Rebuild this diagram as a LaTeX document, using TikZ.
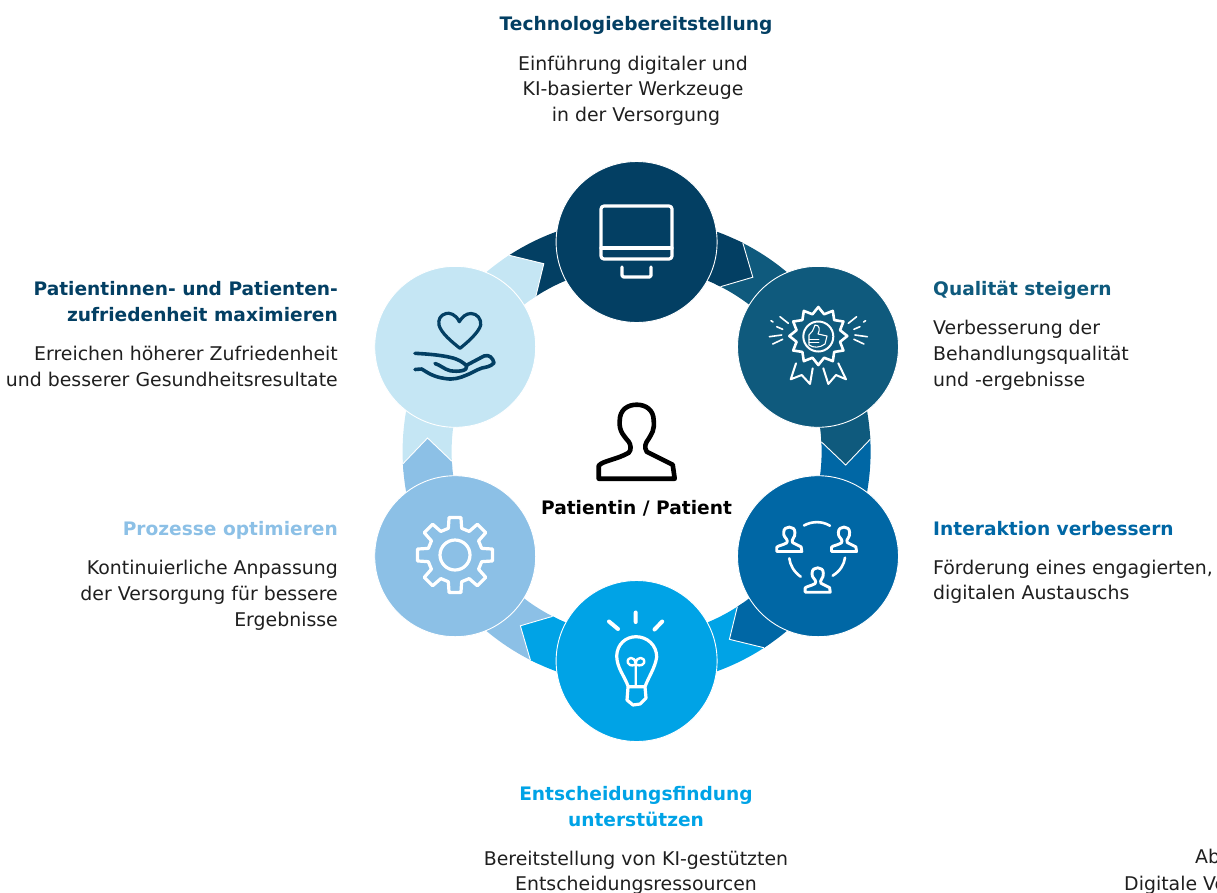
\documentclass[tikz,border=0pt]{standalone}
\usepackage{fontspec}
\setmainfont{DejaVu Sans}
\usetikzlibrary{calc}
\definecolor{cA}{HTML}{033F63}
\definecolor{cB}{HTML}{0F5A7D}
\definecolor{cC}{HTML}{0067A5}
\definecolor{cD}{HTML}{00A3E6}
\definecolor{cE}{HTML}{8CC0E6}
\definecolor{cF}{HTML}{C5E6F4}
\newcommand{\ringseg}[2]{%
  \pgfmathsetmacro{\aS}{123-60*#1}\pgfmathsetmacro{\aE}{63-60*#1}%
  \fill[#2] ($(ring)+(\aS:234pt)$) arc[start angle=\aS,end angle=\aE,radius=234pt]
     -- ($(ring)+(\aE:185pt)$) arc[start angle=\aE,end angle=\aS,radius=185pt] -- cycle;}
\newcommand{\ringtip}[2]{%
  \pgfmathsetmacro{\aE}{63-60*#1}\pgfmathsetmacro{\aT}{56.3-60*#1}\pgfmathsetmacro{\aB}{65-60*#1}%
  \fill[#2] ($(ring)+(\aB:233.8pt)$) -- ($(ring)+(\aE:234pt)$) -- ($(ring)+(\aT:209.5pt)$) -- ($(ring)+(\aE:185pt)$) -- ($(ring)+(\aB:185.2pt)$) -- cycle;
  \draw[white,line width=0.9pt,line join=miter] ($(ring)+(\aE:234pt)$) -- ($(ring)+(\aT:209.5pt)$) -- ($(ring)+(\aE:185pt)$);}
\newcommand{\personshape}{%
  (-17,-21) .. controls (-17,-32) and (-9,-37) .. (0,-37)
  .. controls (9,-37) and (17,-32) .. (17,-21)
  .. controls (18,-12) and (15,-8) .. (12,-3)
  .. controls (9,1) and (7,5) .. (10,10)
  -- (36,23) -- (38,37) -- (-38,37) -- (-38,24)
  .. controls (-34,19) and (-20,18) .. (-8,11)
  .. controls (-5,8) and (-6,3) .. (-8,0)
  .. controls (-12,-5) and (-18,-10) .. (-17,-21) -- cycle}
\tikzset{
  x=1pt,y=-1pt,
  stage/.style={circle,draw=white,line width=0.9pt,minimum size=161pt,inner sep=0pt},
  head/.style={font=\fontsize{18.6}{26}\selectfont\bfseries,inner sep=0pt},
  body/.style={font=\fontsize{18.9}{25.6}\selectfont,text=black!88,inner sep=0pt},
  icon/.style={white,line width=3.2pt,line cap=round,line join=round},
  darkicon/.style={cA,line width=3.2pt,line cap=round,line join=round},
}
\begin{document}
\begin{tikzpicture}
\useasboundingbox (0,0) rectangle (1217,892);
\coordinate (ring) at (636.6,451.5);
% ring
\ringseg{0}{cA}\ringseg{1}{cB}\ringseg{2}{cC}\ringseg{3}{cD}\ringseg{4}{cE}\ringseg{5}{cF}
\ringtip{0}{cA}\ringtip{1}{cB}\ringtip{2}{cC}\ringtip{3}{cD}\ringtip{4}{cE}\ringtip{5}{cF}
% stages
\node[stage,fill=cA] (tech) at (636.6,242) {};
\node[stage,fill=cB] (qual) at (818,346.8) {};
\node[stage,fill=cC] (inter) at (818,556.2) {};
\node[stage,fill=cD] (ent) at (636.6,661) {};
\node[stage,fill=cE] (proz) at (455.2,556.2) {};
\node[stage,fill=cF] (zuf) at (455.2,346.8) {};
% monitor
\draw[icon,rounded corners=3pt] (601,206) rectangle (672,259);
\draw[icon] (601,248) -- (672,248);
\draw[icon,rounded corners=1.5pt] (622,267) -- (622,277) -- (651,277) -- (651,267);
% award
\draw[icon,line width=2.6pt] (818.3,307)
  \foreach \i in {1,...,23} { -- ($(818.3,336)+({90+15*\i}:{(mod(\i,2)==1?22.5:29)*1pt})$) } -- cycle;
\draw[icon,line width=2pt] (818.3,336.5) circle[radius=15pt];
\draw[icon,line width=1.1pt] (815,325) .. controls (813,330) and (812,333) .. (809,335)
  -- (809,345) .. controls (813,348) and (820,348) .. (825,344) -- (827,336) -- (818,334) .. controls (820,330) and (820,325) .. (815,325);
\draw[icon,line width=0.9pt] (809,339) -- (819,339) (809,342) -- (819,342);
\draw[icon,line width=2pt] (796,363.3) -- (790.7,379.3) -- (801.7,375) -- (810,384) -- (812.7,368.3);
\draw[icon,line width=2pt] (823.3,368.3) -- (828.3,384) -- (836,375) -- (846,379.3) -- (838.3,363.3);
\draw[icon,line width=1.6pt]
  (780,316.7) -- (788.3,323.3) (771,320.7) -- (773,322) (776.7,326.7) -- (782.7,329.3) (769.3,336.7) -- (781.7,335) (772.7,344) -- (782.7,339.3)
  (856.6,316.7) -- (848.3,323.3) (865.6,320.7) -- (863.6,322) (859.9,326.7) -- (853.9,329.3) (867.3,336.7) -- (854.9,335) (863.9,344) -- (853.9,339.3);
% people
\begin{scope}[shift={(789.3,539.3)},scale=0.33]\draw[icon,line width=2.9pt] \personshape;\end{scope}
\begin{scope}[shift={(844,539.3)},scale=0.33]\draw[icon,line width=2.9pt] \personshape;\end{scope}
\begin{scope}[shift={(817.7,580)},scale=0.33]\draw[icon,line width=2.9pt] \personshape;\end{scope}
\draw[icon,line width=2.6pt] (804,525.5) .. controls (812,521) and (822,521) .. (830,525.7);
\draw[icon,line width=2.6pt] (789.3,558.3) .. controls (790,565) and (794,572) .. (800.7,576.7);
\draw[icon,line width=2.6pt] (845,557.7) .. controls (844,565) and (840,571) .. (832.7,575.7);
% bulb
\draw[icon] (628.3,686.7) .. controls (624,675) and (617,668) .. (616.7,656)
  .. controls (617,644) and (626,636.7) .. (636,636.7) .. controls (647,636.7) and (656.7,645) .. (656.7,657)
  .. controls (655,668) and (649,676) .. (645,686.7) -- cycle;
\draw[icon] (628,687) -- (627,700) -- (633,705) -- (640,704) -- (646,698) -- (645,687);
\draw[icon,line width=2.4pt] (635.7,686) -- (635.7,664) .. controls (635,655) and (626,657) .. (628,663) .. controls (630,667) and (635,665) .. (635.7,664)
  .. controls (636,665) and (642,667) .. (644,663) .. controls (646,657) and (636,655) .. (635.7,664);
\draw[icon,line width=4pt] (609,621.5) -- (618,629) (635.7,612.5) -- (635.7,622) (662.2,621.5) -- (654.5,629.5);
% gear
\draw[icon] ($(455,555)+(99:38pt)$)
  \foreach \i in {0,...,7} { -- ($(455,555)+({90-45*\i+9}:38pt)$) -- ($(455,555)+({90-45*\i-9}:38pt)$) -- ($(455,555)+({90-45*\i-14}:27.5pt)$) -- ($(455,555)+({90-45*\i-31}:27.5pt)$) } -- cycle;
\draw[icon] (455,555) circle[radius=15pt];
% heart and hand
\draw[darkicon] (459.3,321.7) .. controls (456,314) and (449,312.5) .. (446,313.5) .. controls (440,315) and (438,320) .. (439,325)
  .. controls (441,333) and (452,342) .. (460,348.3) .. controls (468,342) and (479,332) .. (480.7,325)
  .. controls (481.5,319) and (477,313.5) .. (471,313.5) .. controls (466,313.5) and (462,317) .. (459.3,321.7) -- cycle;
\draw[darkicon,line width=3.6pt] (415,353.3) .. controls (428,354) and (440,355) .. (450,357.3) .. controls (458,359) and (463,362) .. (466.7,366)
  .. controls (468,371) and (458,372) .. (450,370.7) .. controls (444,369) and (440,365) .. (435,363.5);
\draw[darkicon,line width=3.6pt] (467,365) -- (484,356) .. controls (489,354) and (493,358) .. (494,363) .. controls (490,367) and (486,367) .. (482,368)
  .. controls (476,370) and (472,373) .. (466.7,375) .. controls (460,378) and (453,380) .. (445,378.5) .. controls (434,377) and (428,373) .. (421.7,369) -- (415,369.5);
% patient
\begin{scope}[shift={(636.7,441.7)}]\draw[black,line width=4.6pt,line join=round] \personshape;\end{scope}
% texts
\node[head,text=black,anchor=base] (patient) at (636.5,514) {Patientin / Patient};
\node[head,text=cA,anchor=base] (t1) at (636,30) {Technologiebereitstellung};
\node[body,anchor=base] (b1) at (633,70) {Einführung digitaler und};
\node[body,anchor=base] (b1b) at (633,95) {KI-basierter Werkzeuge};
\node[body,anchor=base] (b1c) at (636,121) {in der Versorgung};
\node[head,text=cB,anchor=base west] (t2) at (933,295) {Qualität steigern};
\node[body,anchor=base west] (b2a) at (933,334) {Verbesserung der};
\node[body,anchor=base west] (b2b) at (933,360) {Behandlungsqualität};
\node[body,anchor=base west] (b2c) at (933,386) {und -ergebnisse};
\node[head,text=cC,anchor=base west] (t3) at (933,535) {Interaktion verbessern};
\node[body,anchor=base west] (b3a) at (933,574) {Förderung eines engagierten,};
\node[body,anchor=base west] (b3b) at (933,599) {digitalen Austauschs};
\node[head,text=cD,anchor=base] (t4a) at (636,800) {Entscheidungsfindung};
\node[head,text=cD,anchor=base] (t4b) at (636,826) {unterstützen};
\node[body,anchor=base] (b4a) at (636,865) {Bereitstellung von KI-gestützten};
\node[body,anchor=base] (b4b) at (636,890) {Entscheidungsressourcen};
\node[head,text=cE,anchor=base east] (t5) at (338,535) {Prozesse optimieren};
\node[body,anchor=base east] (b5a) at (338,574) {Kontinuierliche Anpassung};
\node[body,anchor=base east] (b5b) at (338,600) {der Versorgung für bessere};
\node[body,anchor=base east] (b5c) at (338,626) {Ergebnisse};
\node[head,text=cA,anchor=base east] (t6a) at (338,295) {Patientinnen- und Patienten-};
\node[head,text=cA,anchor=base east] (t6b) at (338,321) {zufriedenheit maximieren};
\node[body,anchor=base east] (b6a) at (338,360) {Erreichen höherer Zufriedenheit};
\node[body,anchor=base east] (b6b) at (338,386) {und besserer Gesundheitsresultate};
\node[body,anchor=base west] (ab1) at (1195,863) {Ab};
\node[body,anchor=base west] (ab2) at (1124,890) {Digitale Ve};
\end{tikzpicture}
\end{document}
